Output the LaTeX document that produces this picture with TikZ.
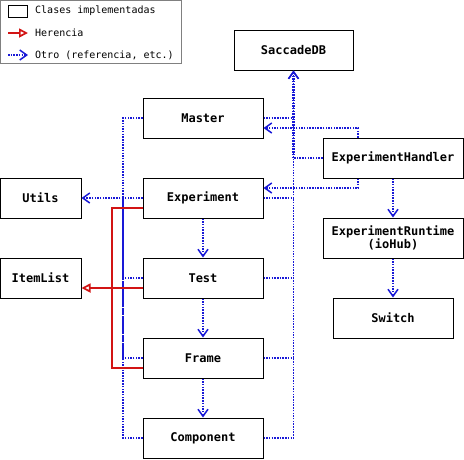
\documentclass[tikz,border=0pt]{standalone}
\usepackage{fontspec}
\setmonofont{DejaVu Sans Mono}
\usetikzlibrary{arrows.meta}
\definecolor{oblue}{RGB}{25,25,215}
\definecolor{ired}{RGB}{210,20,20}
\tikzset{
  box/.style={draw=black, line width=1pt, fill=white, minimum width=120pt, minimum height=40pt, inner sep=2pt, font=\ttfamily\bfseries\fontsize{12}{13.5}\selectfont, align=center},
  other/.style={draw=oblue, line width=1.7pt, dash pattern=on 1.5pt off 1.2pt},
  otip/.style={-{Straight Barb[length=7pt,width=10pt,line width=1.5pt]}},
  inh/.style={draw=ired, line width=1.7pt},
  itip/.style={-{Triangle[open,length=9pt,width=9pt,line width=1.7pt]}},
  legtext/.style={anchor=west, inner sep=0pt, font=\ttfamily\fontsize{10}{12}\selectfont},
}
\begin{document}
\begin{tikzpicture}[x=1pt,y=-1pt]
\useasboundingbox (0,0) rectangle (464,459);
% legend
\node[draw=gray, line width=1pt, minimum width=181pt, minimum height=63pt, inner sep=0pt] (legend) at (91,32) {};
\node[draw=black, line width=1pt, minimum width=19pt, minimum height=12pt, inner sep=0pt] (swatch) at (17.5,11) {};
\node[legtext] (l1) at (35,11) {Clases implementadas};
\node[legtext] (l2) at (35,33) {Herencia};
\node[legtext] (l3) at (35,55) {Otro (referencia, etc.)};
\coordinate (r0) at (8,33);
\coordinate (r1) at (28,33);
\coordinate (b0) at (8,55);
\coordinate (b1) at (28,55);
\draw[inh, itip] (r0) -- (r1);
\draw[other, otip] (b0) -- (b1);
% nodes
\node[box, minimum width=119pt] (saccade) at (293.5,50) {SaccadeDB};
\node[box] (master) at (203,118) {Master};
\node[box] (experiment) at (203,198) {Experiment};
\node[box] (test) at (203,278) {Test};
\node[box] (frame) at (203,358) {Frame};
\node[box] (component) at (203,438) {Component};
\node[box, minimum width=81pt] (utils) at (40.5,198) {Utils};
\node[box, minimum width=81pt] (itemlist) at (40.5,278) {ItemList};
\node[box, minimum width=140pt] (handler) at (393,158) {ExperimentHandler};
\node[box, minimum width=140pt] (runtime) at (393,238) {ExperimentRuntime\\(ioHub)};
\node[box] (switch) at (393,318) {Switch};
% left bus to Utils
\coordinate (lbus) at (123,198);
\foreach \n in {master,experiment,test,frame,component}
  \draw[other] (\n.west) -| (lbus);
\draw[other, line width=2.6pt, otip] (lbus) -- (utils.east);
% right bus to SaccadeDB
\foreach \n in {master,experiment,test,frame}
  \draw[other] (\n.east) -- (\n.east -| saccade.south);
\draw[other] (handler.west) -- (handler.west -| saccade.south);
\draw[other, otip] (component.east) -| (saccade.south);
\draw[other, line width=2.2pt, otip] (saccade.south |- handler.west) -- (saccade.south);
% handler references
\draw[other, otip] ([xshift=-35pt]handler.north) |- ([yshift=-10pt]master.east);
\draw[other, otip] ([xshift=-35pt]handler.south) |- ([yshift=10pt]experiment.east);
\draw[other, otip] (handler.south) -- (runtime.north);
\draw[other, otip] (runtime.south) -- (switch.north);
% chain
\draw[other, otip] (experiment.south) -- (test.north);
\draw[other, otip] (test.south) -- (frame.north);
\draw[other, otip] (frame.south) -- (component.north);
% inheritance
\coordinate (rbus) at (112,288);
\draw[inh] ([yshift=-10pt]experiment.west) -| (rbus) |- ([yshift=-10pt]frame.west);
\draw[inh, line width=2.6pt, itip] ([yshift=-10pt]test.west) -- ([yshift=-10pt]itemlist.east);
\end{tikzpicture}
\end{document}
